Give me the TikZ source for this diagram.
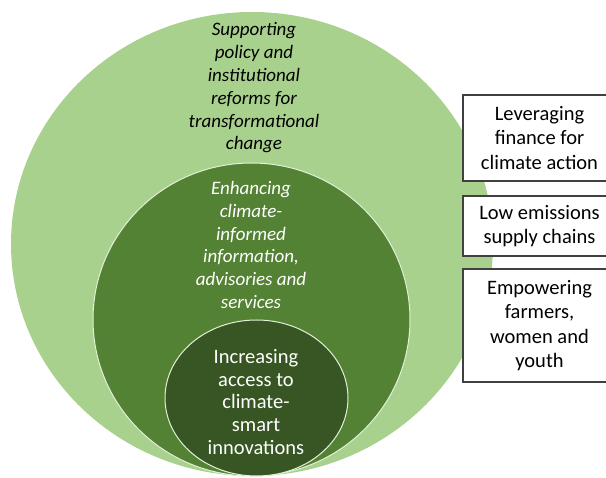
\documentclass[tikz,border=0pt]{standalone}
\usepackage{fontspec}
\setmainfont{Carlito}
\usetikzlibrary{shapes.geometric}

\begin{document}
\begin{tikzpicture}[x=1pt,y=-1pt]
    \definecolor{ring_outer}{RGB}{169,209,142}
    \definecolor{ring_mid}{RGB}{84,130,53}
    \definecolor{ring_inner}{RGB}{55,86,35}
    \definecolor{ring_edge}{RGB}{226,240,217}
    \definecolor{box_line}{RGB}{64,64,64}
    \tikzset{
        ring/.style={shape=ellipse,inner sep=0pt},
        ringtext/.style={align=center,font=\fontsize{19}{22.8}\selectfont},
        sidebox/.style={shape=rectangle,draw=box_line,line width=1.2pt,fill=white,minimum width=153pt,align=center,font=\fontsize{20.5}{24.5}\selectfont}
    }
    \useasboundingbox (0,0) rectangle (606,478);
    \clip (0,0) rectangle (606,478);
    % nested rings
    \node[ring,fill=ring_outer,minimum width=482pt,minimum height=464pt] (outer) at (252,244) {};
    \node[ring,fill=ring_mid,draw=ring_edge,line width=1pt,minimum width=317pt,minimum height=313pt] (mid) at (251.5,319.5) {};
    \node[ring,fill=ring_inner,draw=ring_edge,line width=1pt,minimum width=183pt,minimum height=156pt] (inner) at (256.5,398) {};
    \node[ringtext,text=black] (outer_text) at (254,88) {\itshape Supporting\\ \itshape policy and\\ \itshape institutional\\ \itshape reforms for\\ \itshape transformational\\ \itshape change};
    \node[ringtext,text=white] (mid_text) at (251,245) {\itshape Enhancing\\ \itshape climate-\\ \itshape informed\\ \itshape information,\\ \itshape advisories and\\ \itshape services};
    \node[ringtext,text=white,font=\fontsize{20.5}{22.8}\selectfont] (inner_text) at (256,402) {Increasing\\ access to\\ climate-\\ smart\\ innovations};
    % side boxes
    \node[sidebox,minimum height=86pt]  (finance)   at (539.5,138)   {Leveraging\\ finance for\\ climate action};
    \node[sidebox,minimum height=60pt]  (emissions) at (539.5,226)   {Low emissions\\ supply chains};
    \node[sidebox,minimum height=113pt] (farmers)   at (539.5,325.5) {Empowering\\ farmers,\\ women and\\ youth};
\end{tikzpicture}
\end{document}
